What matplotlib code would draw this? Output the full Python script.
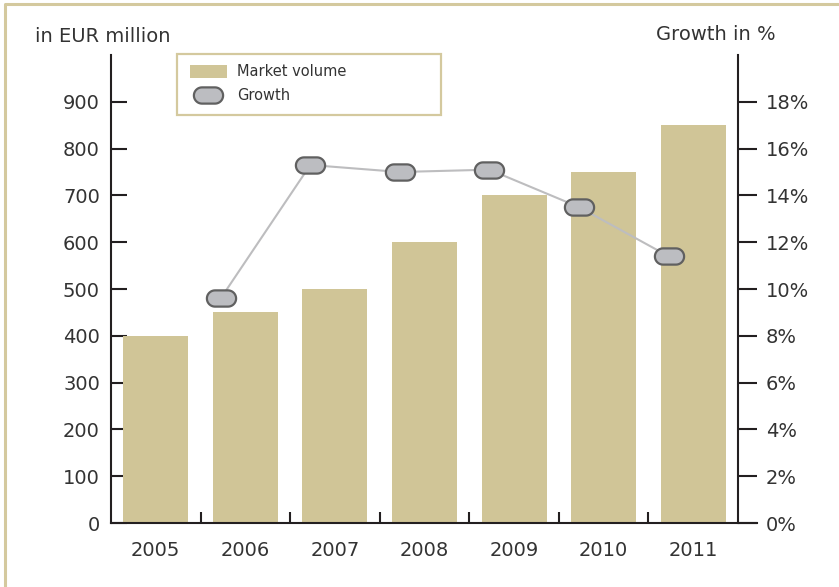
import numpy as np
import matplotlib
matplotlib.use("Agg")
import matplotlib.pyplot as plt
from matplotlib.path import Path
from matplotlib.patches import Rectangle
from matplotlib.lines import Line2D

# Market data
years = ["2005", "2006", "2007", "2008", "2009", "2010", "2011"]
market_volume = [400, 450, 500, 600, 700, 750, 850]      # in EUR million
growth_years = ["2006", "2007", "2008", "2009", "2010", "2011"]
growth = [9.6, 15.3, 15.0, 15.1, 13.5, 11.4]             # in %

BAR_COLOR = "#d0c597"
FRAME_COLOR = "#d4c99e"
AXIS_COLOR = "#231f20"
TEXT_COLOR = "#333333"
LINE_COLOR = "#bdbdbf"
MARKER_FACE = "#bcbdc1"
MARKER_EDGE = "#606060"

# stadium-shaped marker (rounded pill)
def pill_marker(half_len=0.4, radius=0.5, n=24):
    t1 = np.linspace(-np.pi / 2, np.pi / 2, n)
    t2 = np.linspace(np.pi / 2, 3 * np.pi / 2, n)
    right = np.column_stack([half_len + radius * np.cos(t1), radius * np.sin(t1)])
    left = np.column_stack([-half_len + radius * np.cos(t2), radius * np.sin(t2)])
    verts = np.vstack([right, left, right[:1]])
    codes = [Path.MOVETO] + [Path.LINETO] * (len(verts) - 2) + [Path.CLOSEPOLY]
    return Path(verts, codes)

pill = pill_marker()

plt.rcParams["font.family"] = ["DejaVu Sans"]

fig = plt.figure(figsize=(8.39, 5.87), dpi=100)
ax = fig.add_axes([0.1323, 0.109, 0.7473, 0.7973])

x = np.arange(len(years))
ax.bar(x, market_volume, width=0.726, color=BAR_COLOR, zorder=2)
ax.set_xlim(-0.5, len(years) - 0.5)
ax.set_ylim(0, 1000)
ax.set_yticks(range(0, 1000, 100))

ax.set_xticks(x)
ax.set_xticklabels(years)
ax.set_xticks(x[:-1] + 0.5, minor=True)
ax.tick_params(axis="x", which="major", length=0, pad=13, labelsize=14,
               labelcolor=TEXT_COLOR)
ax.tick_params(axis="x", which="minor", direction="in", length=8, width=1.5,
               color=AXIS_COLOR)
ax.tick_params(axis="y", direction="in", length=11.5, width=1.5, pad=8,
               labelsize=14, color=AXIS_COLOR, labelcolor=TEXT_COLOR)

for s in ["top", "right", "bottom"]:
    ax.spines[s].set_visible(False)
ax.spines["left"].set_color(AXIS_COLOR)
ax.spines["left"].set_linewidth(1.5)

# base line runs past the right axis
ax.add_line(Line2D([0, 1.031], [0, 0], transform=ax.transAxes, color=AXIS_COLOR,
                   lw=1.5, clip_on=False, zorder=5))

# growth on the right-hand axis
ax2 = ax.twinx()
ax2.set_ylim(0, 20)
ax2.set_yticks(range(0, 20, 2))
ax2.set_yticklabels([f"{v}%" for v in range(0, 20, 2)])
ax2.tick_params(axis="y", direction="out", length=13.7, width=1.5, pad=6.5,
                labelsize=14, color=AXIS_COLOR, labelcolor=TEXT_COLOR)
for s in ["top", "left", "bottom"]:
    ax2.spines[s].set_visible(False)
ax2.spines["right"].set_color(AXIS_COLOR)
ax2.spines["right"].set_linewidth(1.5)

gx = np.array([years.index(y) for y in growth_years]) - 0.275
ax2.plot(gx, growth, color=LINE_COLOR, lw=1.5, zorder=3)
ax2.plot(gx, growth, linestyle="none", marker=pill, markersize=21,
         markerfacecolor=MARKER_FACE, markeredgecolor=MARKER_EDGE,
         markeredgewidth=1.6, zorder=4, clip_on=False)

# axis captions
fig.text(35 / 839, 1 - 36 / 587, "in EUR million", ha="left", va="center",
         fontsize=14, color=TEXT_COLOR)
fig.text(776 / 839, 1 - 35 / 587, "Growth in %", ha="right", va="center",
         fontsize=14, color=TEXT_COLOR)

# legend box
fig.add_artist(Rectangle((177 / 839, 1 - 115 / 587), 264 / 839, 61 / 587,
                         transform=fig.transFigure, facecolor="white",
                         edgecolor=FRAME_COLOR, lw=1.6, zorder=6))
fig.add_artist(Rectangle((190 / 839, 1 - 78 / 587), 37 / 839, 13 / 587,
                         transform=fig.transFigure, facecolor=BAR_COLOR,
                         edgecolor="none", zorder=7))
fig.add_artist(Line2D([208 / 839], [1 - 95 / 587], transform=fig.transFigure,
                      marker=pill, markersize=21, markerfacecolor=MARKER_FACE,
                      markeredgecolor=MARKER_EDGE, markeredgewidth=1.6,
                      linestyle="none", zorder=7))
fig.text(237 / 839, 1 - 71.5 / 587, "Market volume", ha="left", va="center",
         fontsize=10.5, color=TEXT_COLOR, zorder=8)
fig.text(237 / 839, 1 - 95 / 587, "Growth", ha="left", va="center",
         fontsize=10.5, color=TEXT_COLOR, zorder=8)

# outer frame (left and top edges)
fig.add_artist(Line2D([5 / 839, 5 / 839, 1], [0, 1 - 4 / 587, 1 - 4 / 587],
                      transform=fig.transFigure, color=FRAME_COLOR, lw=2.2))

fig.savefig("out.png", dpi=100)
